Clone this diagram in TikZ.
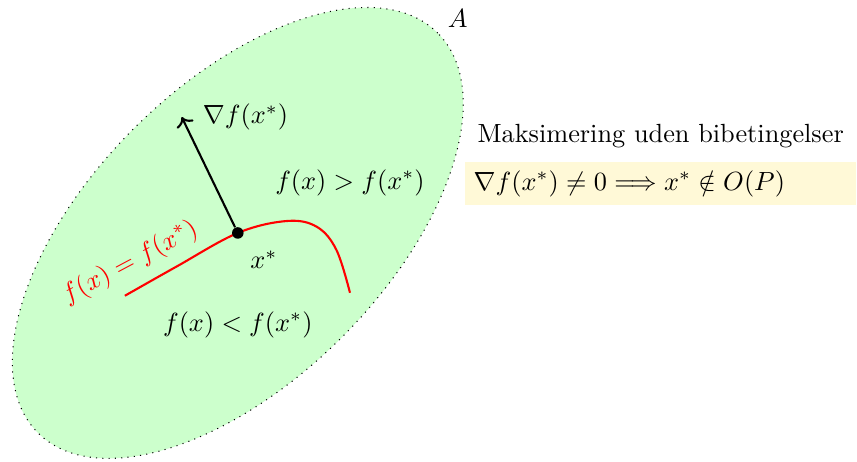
\documentclass[tikz,border=0pt]{standalone}
\usepackage{amsmath}
\usepackage{amssymb}
\usetikzlibrary{arrows.meta, positioning}
\definecolor{regiongreen}{RGB}{204,255,204}
\definecolor{boxyellow}{RGB}{255,249,215}

\begin{document}
\begin{tikzpicture}[
    region/.style={draw, dotted, fill=regiongreen},
    level/.style={red, thick},
    grad/.style={->, thick},
    optpoint/.style={circle, fill=black, inner sep=0pt, minimum size=4.4pt},
    condbox/.style={fill=boxyellow, text width=5cm, align=left}
]
\useasboundingbox (-3.18,-3.06) rectangle (8.28,3.115);

% Feasible region
\draw[region, rotate=45] (0,0) ellipse (3.78cm and 1.97cm);
\node (setA) at (2.94,2.87) {$A$};

% Level curve through the optimum
\draw[level] plot[smooth, tension=0.6] coordinates {(-1.51,-0.84) (-0.82,-0.45) (0,0) (0.66,0.16) (1.06,0.08) (1.32,-0.23) (1.50,-0.80)};
\node[optpoint] (xs) at (0,0) {};
\coordinate (gtip) at (-0.75,1.55);
\draw[grad] (xs) -- (gtip);

% Labels
\node[right=0.16cm of gtip] (gradlbl) {$\nabla f(x^*)$};
\node (xslbl) at (0.35,-0.36) {$x^*$};
\node (upper) at (1.50,0.67) {$f(x) > f(x^*)$};
\node (lower) at (0,-1.23) {$f(x) < f(x^*)$};
\node[red, rotate=28] (lvllbl) at (-1.44,-0.40) {$f(x) = f(x^*)$};

% Condition box
\node[condbox] (cond) at (5.655,0.662) {$\nabla f(x^*) \neq 0 \Longrightarrow x^* \notin O(P)$};
\node[above=0.5mm of cond] (title) {Maksimering uden bibetingelser};

\end{tikzpicture}
\end{document}
